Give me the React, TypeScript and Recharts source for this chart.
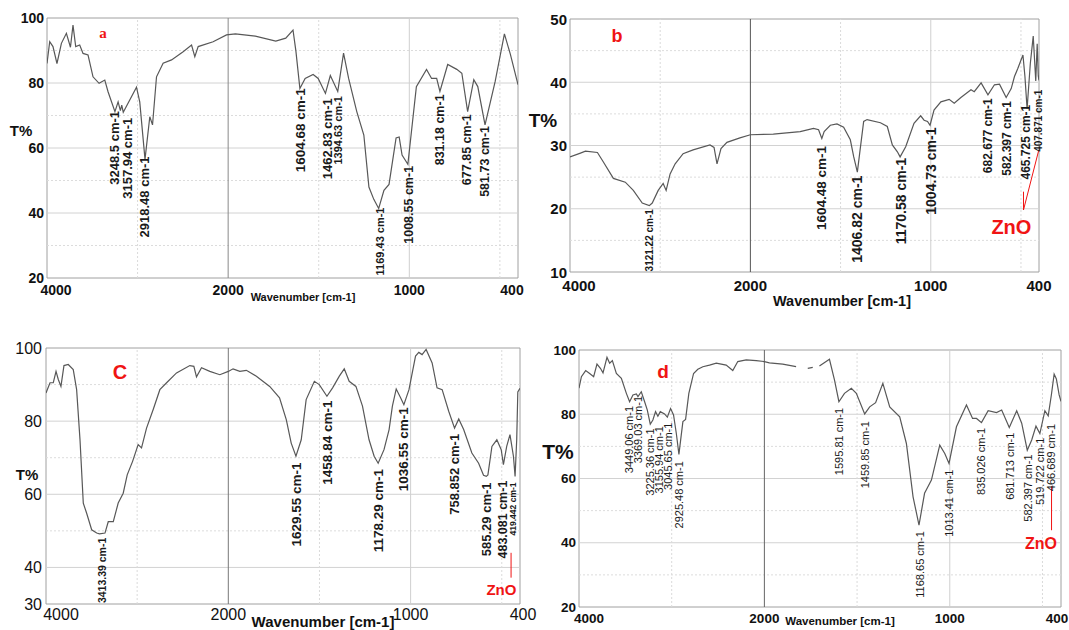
import React from 'react';
import { LineChart, Line, XAxis, YAxis, ReferenceLine, ReferenceArea, ReferenceDot } from 'recharts';

const FONT = '"Liberation Sans", Arial, sans-serif';
const RED = '#f01414';

// The wavenumber axis is drawn with 4000-2000 at half the scale of 2000-400
const toAxis = (w: number) => (w > 2000 ? 2000 + (w - 2000) / 2 : w);
const fromAxis = (v: number) => (v > 2000 ? 2000 + (v - 2000) * 2 : v);

const xTickLabels = [4000, 2000, 1000, 400];

// ---------- panel a ----------
const aWave = [4000, 3970, 3934, 3890, 3841, 3786, 3741, 3713, 3683, 3639, 3602, 3547, 3492, 3425, 3362, 3326, 3250, 3215, 3190, 3175, 3158, 3012, 2976, 2918, 2865, 2835, 2791, 2718, 2625, 2497, 2404, 2368, 2331, 2166, 2018, 1960, 1850, 1737, 1682, 1642, 1626, 1604, 1575, 1531, 1503, 1463, 1436, 1395, 1363, 1335, 1290, 1251, 1223, 1196, 1169, 1140, 1112, 1073, 1056, 1040, 1008, 961, 905, 877, 849, 831, 788, 738, 710, 678, 644, 622, 582, 526, 475, 442, 400];
const aT = [86, 92.7, 91.2, 86, 92.2, 95.3, 91, 97.8, 91.2, 91.7, 89.1, 88.6, 81.9, 79.9, 80.9, 77.3, 71.2, 74.2, 71.5, 73.2, 71, 78.7, 74.2, 56.5, 69.6, 67.1, 81.9, 86.1, 87.1, 89.6, 91.7, 88.1, 91.2, 92.7, 94.8, 95.1, 94.4, 92.9, 93.8, 96.3, 89.8, 78.3, 81.4, 82.6, 81.4, 76.8, 82.3, 77.4, 89.2, 81.4, 71.2, 64, 48, 44.2, 41.4, 47, 48.8, 63.1, 63.4, 57.8, 55, 78.9, 84.2, 81.4, 81.4, 77.4, 85.7, 84.2, 83, 71.2, 81, 78.9, 67.1, 80.5, 95.1, 88.8, 79.5];
const aPeakWave = [3250, 3111, 2919, 1600, 1452, 1395, 1163, 1002, 828, 683, 582];
const aPeakText = ['3248.5 cm-1', '3157.94 cm-1', '2918.48 cm-1', '1604.68 cm-1', '1462.83 cm-1', '1394.63 cm-1', '1169.43 cm-1', '1008.55 cm-1', '831.18 cm-1', '677.85 cm-1', '581.73 cm-1'];
// where each vertical label begins (T%) and its font size
const aPeakTop = [71.7, 69.6, 57.7, 78.7, 75.6, 76.3, 42, 54.8, 76.8, 70.7, 67.1];
const aPeakSize = [13, 13, 13, 13.5, 13, 11, 11, 12.5, 12.5, 12.5, 12.5];

// ---------- panel b ----------
const bWave = [4000, 3884, 3829, 3696, 3630, 3519, 3387, 3298, 3199, 3121, 3088, 3022, 2967, 2934, 2890, 2834, 2746, 2635, 2448, 2403, 2370, 2326, 2260, 2116, 2000, 1873, 1724, 1650, 1622, 1604, 1591, 1557, 1520, 1483, 1446, 1427, 1407, 1394, 1372, 1353, 1279, 1241, 1213, 1185, 1170, 1139, 1093, 1056, 1037, 1018, 1004, 982, 944, 898, 870, 833, 777, 759, 721, 683, 647, 619, 582, 554, 536, 517, 489, 478, 466, 448, 432, 418, 410, 404, 400];
const bT = [28.2, 28.8, 29.1, 28.9, 27.4, 24.8, 24.2, 22.9, 20.9, 20.5, 20.9, 22.9, 24, 22.9, 25.5, 27.1, 28.7, 29.3, 30.1, 29.7, 27.1, 29.5, 30.5, 31.2, 31.7, 31.8, 32.2, 32.7, 32.5, 31.1, 32.2, 33.2, 33.4, 32.9, 30.9, 28.2, 25.8, 28.8, 33.8, 34.1, 33.6, 33, 30.1, 29, 28.2, 29.8, 33.5, 34.7, 34, 33.8, 33.2, 35.6, 36.9, 37.3, 36.7, 37.6, 38.8, 38.5, 39.9, 38, 39.6, 39.7, 37.6, 39, 40.9, 42.2, 44.3, 40.9, 35.8, 43, 47.3, 40.2, 46.1, 41, 40.3];
const bPeakWave = [3121, 1603, 1408, 1165, 1000, 680, 578, 471, 402];
const bPeakText = ['3121.22 cm-1', '1604.48 cm-1', '1406.82 cm-1', '1170.58 cm-1', '1004.73 cm-1', '682.677 cm-1', '582.397 cm-1', '465.725 cm-1', '407.871 cm-1'];
const bPeakTop = [20.1, 30.1, 25.4, 28.2, 33, 37.6, 37.2, 36.6, 39];
const bPeakSize = [10, 13.5, 14, 14, 14, 12, 12, 12, 10];

// ---------- panel c ----------
const cWave = [4000, 3956, 3920, 3890, 3865, 3836, 3803, 3756, 3701, 3664, 3627, 3591, 3554, 3499, 3444, 3413, 3353, 3317, 3262, 3208, 3153, 3109, 3050, 2989, 2952, 2897, 2824, 2751, 2677, 2568, 2422, 2378, 2349, 2294, 2203, 2093, 2000, 1974, 1937, 1901, 1846, 1773, 1719, 1682, 1655, 1629, 1600, 1573, 1528, 1501, 1459, 1428, 1391, 1364, 1337, 1300, 1264, 1228, 1200, 1178, 1146, 1118, 1100, 1079, 1055, 1037, 1009, 973, 955, 937, 915, 882, 855, 827, 791, 759, 736, 709, 664, 627, 600, 585, 576, 554, 527, 503, 491, 473, 455, 436, 427, 418, 412, 400];
const cT = [87.7, 90.5, 90.5, 93.6, 91.4, 89.5, 95.2, 95.5, 94.1, 88.6, 74.9, 57.6, 54.8, 50.3, 49.4, 49.2, 49.4, 52.5, 52.5, 57.6, 60.3, 65.3, 69, 73.6, 72.7, 78.1, 83.2, 88.6, 90.5, 93.2, 95.2, 95, 92.1, 94.6, 93.6, 92.7, 93.6, 94.3, 93.6, 93.9, 92.3, 89.5, 86.4, 80.4, 74, 70.4, 74.9, 85.9, 90.9, 90, 86.8, 89.1, 92.3, 94.3, 90.9, 89.5, 84.1, 74.9, 70.4, 68.5, 72.2, 77.7, 84.1, 88.8, 86.4, 84.5, 88.6, 97.8, 98.8, 98.2, 99.6, 95.9, 89.1, 88.6, 82.7, 78.1, 80.6, 77.7, 71.3, 68.5, 65.2, 64.9, 65.3, 73.1, 74.9, 72.2, 68.1, 73.1, 76.3, 70.4, 64.9, 75, 88, 89];
const cPeakWave = [3390, 1624, 1455, 1177, 1037, 760, 585, 491, 436];
const cPeakText = ['3413.39 cm-1', '1629.55 cm-1', '1458.84 cm-1', '1178.29 cm-1', '1036.55 cm-1', '758.852 cm-1', '585.29 cm-1', '483.081 cm-1', '419.442 cm-1'];
const cPeakTop = [48.4, 69, 85.9, 67.2, 84.1, 76.8, 63.5, 64, 63.5];
const cPeakSize = [10.5, 13.5, 13.5, 13.5, 13.5, 13, 13, 12.5, 8.5];

// ---------- panel d ----------
const dWave = [4000, 3974, 3928, 3885, 3842, 3806, 3769, 3741, 3698, 3669, 3640, 3597, 3543, 3489, 3454, 3418, 3381, 3364, 3328, 3292, 3263, 3231, 3203, 3174, 3149, 3123, 3077, 3047, 3012, 2980, 2950, 2922, 2897, 2879, 2850, 2815, 2764, 2718, 2664, 2592, 2519, 2412, 2341, 2287, 2196, 2088, 2000, 1973, 1901, 1829, 1800, 1766, 1739, 1720, 1703, 1649, 1622, 1598, 1568, 1531, 1504, 1459, 1432, 1400, 1361, 1324, 1270, 1234, 1198, 1166, 1136, 1099, 1054, 1027, 1004, 964, 910, 877, 856, 829, 793, 748, 720, 679, 639, 612, 582, 558, 535, 514, 487, 469, 452, 437, 425, 410, 400];
const dT: (number | null)[] = [88.1, 91.7, 93.6, 92.7, 91.7, 95.6, 94.3, 92.9, 97.7, 95.9, 96.7, 92.7, 91.2, 86.5, 83.9, 86, 86.3, 85.5, 87, 83.9, 81.3, 76.9, 78.2, 80.8, 79.4, 80.8, 80.1, 79.1, 81.8, 79.8, 74, 67.5, 73.5, 77.7, 78.4, 86.5, 92.7, 94, 94.8, 95.3, 95.9, 95.3, 93.6, 96.4, 96.9, 96.7, 96.4, 96, 95.6, 94.8, null, 94.3, 94.6, null, 95, 97.1, 90.7, 83.9, 86.5, 88.1, 86.5, 80.1, 82.3, 83.6, 89.6, 82.3, 79.2, 70.9, 54.3, 45.5, 55.4, 59.5, 70.4, 67.8, 64.7, 76.1, 82.9, 78.7, 78.7, 77.4, 81.1, 80.5, 81.3, 75.9, 81.1, 77.2, 68.8, 72, 76.3, 74, 81.1, 79.5, 86, 92.5, 91, 86, 84];
const dPeakWave = [3461, 3364, 3238, 3138, 3041, 2922, 1595, 1456, 1162, 1004, 829, 676, 577, 514, 454];
const dPeakText = ['3449.06 cm-1', '3369.03 cm-1', '3225.36 cm-1', '3155.94 cm-1', '3045.65 cm-1', '2925.48 cm-1', '1595.81 cm-1', '1459.85 cm-1', '1168.65 cm-1', '1013.41 cm-1', '835.026 cm-1', '681.713 cm-1', '582.397 cm-1', '519.722 cm-1', '466.689 cm-1'];
const dPeakTop = [82.9, 86, 75.9, 76.6, 77.7, 65.7, 82.3, 78.2, 43.9, 63.1, 76.1, 74.6, 67.8, 73, 77.3];

type Peak = { w: number; text: string; top: number; size: number };
type Seg = [number, number, number, number];
type PanelCfg = {
  left: number; top: number; w: number; h: number;
  yDomain: [number, number]; yTicks: number[];
  wave: number[]; T: (number | null)[];
  peaks: Peak[]; peakWeight: string;
  tickSize: number; tickWeight: string; yGap: number;
  xOff: number; xDx: Record<number, number>;
  major: number[]; minor: number[]; midColor: string;
  zno?: { w: number; t: number; size: number; segs: Seg[] };
};

const mkPeaks = (ws: number[], ts: string[], tops: number[], sizes: number[] | number): Peak[] =>
  ws.map((w, i) => ({ w, text: ts[i], top: tops[i], size: Array.isArray(sizes) ? sizes[i] : sizes }));

const panels: PanelCfg[] = [
  {
    left: 47, top: 18, w: 471, h: 260, yDomain: [20, 100], yTicks: [20, 40, 60, 80, 100],
    wave: aWave, T: aT, peaks: mkPeaks(aPeakWave, aPeakText, aPeakTop, aPeakSize), peakWeight: 'bold',
    tickSize: 14, tickWeight: 'bold', yGap: 3, xOff: 12, xDx: { 4000: 9, 400: -6 },
    major: [40, 60, 80], minor: [30, 50, 70, 90], midColor: '#8a8a8a',
  },
  {
    left: 570, top: 19, w: 469, h: 253, yDomain: [10, 50], yTicks: [10, 20, 30, 40, 50],
    wave: bWave, T: bT, peaks: mkPeaks(bPeakWave, bPeakText, bPeakTop, bPeakSize), peakWeight: 'bold',
    tickSize: 15, tickWeight: 'bold', yGap: 3, xOff: 13, xDx: { 4000: 9, 400: 0 },
    major: [20, 30, 40], minor: [15, 25, 35, 45], midColor: '#555',
    zno: { w: 553, t: 17.1, size: 20, segs: [[486, 19.8, 486, 22.7], [486, 19.8, 401, 29.3]] },
  },
  {
    left: 46, top: 348, w: 474, h: 256, yDomain: [30, 100], yTicks: [30, 40, 60, 80, 100],
    wave: cWave, T: cT, peaks: mkPeaks(cPeakWave, cPeakText, cPeakTop, cPeakSize), peakWeight: 'bold',
    tickSize: 16, tickWeight: 'normal', yGap: 4, xOff: 10, xDx: { 4000: 15, 400: 3 },
    major: [40, 60, 80], minor: [50, 70, 90], midColor: '#777',
    zno: { w: 502, t: 34, size: 15, segs: [[449, 44, 449, 37.2]] },
  },
  {
    left: 579, top: 350, w: 482, h: 257, yDomain: [20, 100], yTicks: [20, 40, 60, 80, 100],
    wave: dWave, T: dT, peaks: mkPeaks(dPeakWave, dPeakText, dPeakTop, 11), peakWeight: 'normal',
    tickSize: 13.5, tickWeight: 'bold', yGap: 3, xOff: 11, xDx: { 4000: 10, 400: -4 },
    major: [40, 60, 80], minor: [30, 50, 70, 90], midColor: '#666',
    zno: { w: 508, t: 39.8, size: 16, segs: [[451, 57.6, 451, 43.9]] },
  },
];

const YW = 60, MT = 10, MR = 30, XH = 30;

function Panel({ cfg }: { cfg: PanelCfg }) {
  const data = cfg.wave.map((w, i) => ({ x: toAxis(w), T: cfg.T[i] }));
  const width = cfg.w + YW + MR;
  const height = cfg.h + MT + XH;
  const [y0, y1] = cfg.yDomain;
  const XTick = (p: any) => {
    const label = fromAxis(p.payload.value);
    return (
      <text x={p.x + (cfg.xDx[label] ?? 0)} y={p.y + cfg.xOff} textAnchor="middle" dominantBaseline="central"
        fontFamily={FONT} fontSize={cfg.tickSize} fontWeight={cfg.tickWeight} fill="#111">{label}</text>
    );
  };
  const YTick = (p: any) => (
    <text x={p.x - cfg.yGap} y={p.y} textAnchor="end" dominantBaseline="central"
      fontFamily={FONT} fontSize={cfg.tickSize} fontWeight={cfg.tickWeight} fill="#111">{p.payload.value}</text>
  );
  return (
    <div style={{ position: 'absolute', left: cfg.left - YW, top: cfg.top - MT, width, height }}>
      <LineChart width={width} height={height} data={data} margin={{ top: MT, right: MR, bottom: 0, left: 0 }}>
        <XAxis type="number" dataKey="x" domain={[400, 3000]} reversed allowDataOverflow
          ticks={xTickLabels.map(toAxis)} interval={0} height={XH} axisLine={false} tickLine={false}
          tickSize={0} tickMargin={0} tick={XTick} />
        <YAxis type="number" domain={[y0, y1]} allowDataOverflow ticks={cfg.yTicks} interval={0} width={YW}
          axisLine={false} tickLine={false} tickSize={0} tickMargin={0} tick={YTick} />
        {cfg.minor.map((v) => (
          <ReferenceLine key={'mn' + v} y={v} stroke="#dcdcdc" strokeDasharray="2 2" strokeWidth={1} />
        ))}
        {cfg.major.map((v) => (
          <ReferenceLine key={'mj' + v} y={v} stroke="#d2d2d2" strokeWidth={1} />
        ))}
        {[3000, 1500, 500].map((w) => (
          <ReferenceLine key={'vx' + w} x={toAxis(w)} stroke="#dadada" strokeDasharray="2 2" strokeWidth={1} />
        ))}
        <ReferenceLine x={1000} stroke="#cfcfcf" strokeWidth={1} />
        <ReferenceLine x={2000} stroke={cfg.midColor} strokeWidth={1} />
        <ReferenceArea x1={400} x2={3000} y1={y0} y2={y1} fill="none" fillOpacity={0} stroke="#a0a0a0" strokeWidth={1} />
        <Line type="linear" dataKey="T" stroke="#585858" strokeWidth={1.2} dot={false} activeDot={false}
          isAnimationActive={false} connectNulls={false} />
        {cfg.peaks.map((pk, i) => (
          <ReferenceDot key={'pk' + i} x={toAxis(pk.w)} y={pk.top} r={0} ifOverflow="visible"
            shape={(sp: any) => (
              <text x={sp.cx} y={sp.cy + 1} transform={`rotate(-90 ${sp.cx} ${sp.cy + 1})`} textAnchor="end"
                dominantBaseline="central" fontFamily={FONT} fontSize={pk.size} fontWeight={cfg.peakWeight}
                fill="#1a1a1a">{pk.text}</text>
            )} />
        ))}
        {cfg.zno && cfg.zno.segs.map((s, i) => (
          <ReferenceLine key={'zs' + i} segment={[{ x: toAxis(s[0]), y: s[1] }, { x: toAxis(s[2]), y: s[3] }]}
            stroke={RED} strokeWidth={1} ifOverflow="visible" />
        ))}
        {cfg.zno && (
          <ReferenceDot x={toAxis(cfg.zno.w)} y={cfg.zno.t} r={0} ifOverflow="visible"
            shape={(sp: any) => (
              <text x={sp.cx} y={sp.cy} textAnchor="middle" dominantBaseline="central" fontFamily={FONT}
                fontSize={cfg.zno!.size} fontWeight="bold" fill={RED}>ZnO</text>
            )} />
        )}
      </LineChart>
    </div>
  );
}

type Lbl = { x: number; y: number; text: string; size: number; color?: string; serif?: boolean };
const overlayLabels: Lbl[] = [
  { x: 103, y: 33, text: 'a', size: 15, color: RED, serif: true },
  { x: 21, y: 130, text: 'T%', size: 15 },
  { x: 303, y: 297, text: 'Wavenumber [cm-1]', size: 11 },
  { x: 617, y: 36, text: 'b', size: 18, color: RED },
  { x: 543, y: 120, text: 'T%', size: 19 },
  { x: 842, y: 301, text: 'Wavenumber [cm-1]', size: 14.5 },
  { x: 120, y: 372, text: 'C', size: 20, color: RED },
  { x: 27, y: 474, text: 'T%', size: 15 },
  { x: 323, y: 621, text: 'Wavenumber [cm-1]', size: 15 },
  { x: 663, y: 371, text: 'd', size: 19, color: RED },
  { x: 558, y: 451, text: 'T%', size: 21 },
  { x: 840, y: 621, text: 'Wavenumber [cm-1]', size: 11.5 },
];

export default function App() {
  return (
    <div style={{ position: 'absolute', left: 0, top: 0, width: 1069, height: 630, background: '#fff', overflow: 'hidden' }}>
      {panels.map((p, i) => <Panel key={i} cfg={p} />)}
      <svg width={1069} height={630} style={{ position: 'absolute', left: 0, top: 0, pointerEvents: 'none' }}>
        {overlayLabels.map((l, i) => (
          <text key={i} x={l.x} y={l.y} textAnchor="middle" dominantBaseline="central"
            fontFamily={l.serif ? '"Liberation Serif", serif' : FONT} fontSize={l.size} fontWeight="bold"
            fill={l.color ?? '#111'}>{l.text}</text>
        ))}
      </svg>
    </div>
  );
}
